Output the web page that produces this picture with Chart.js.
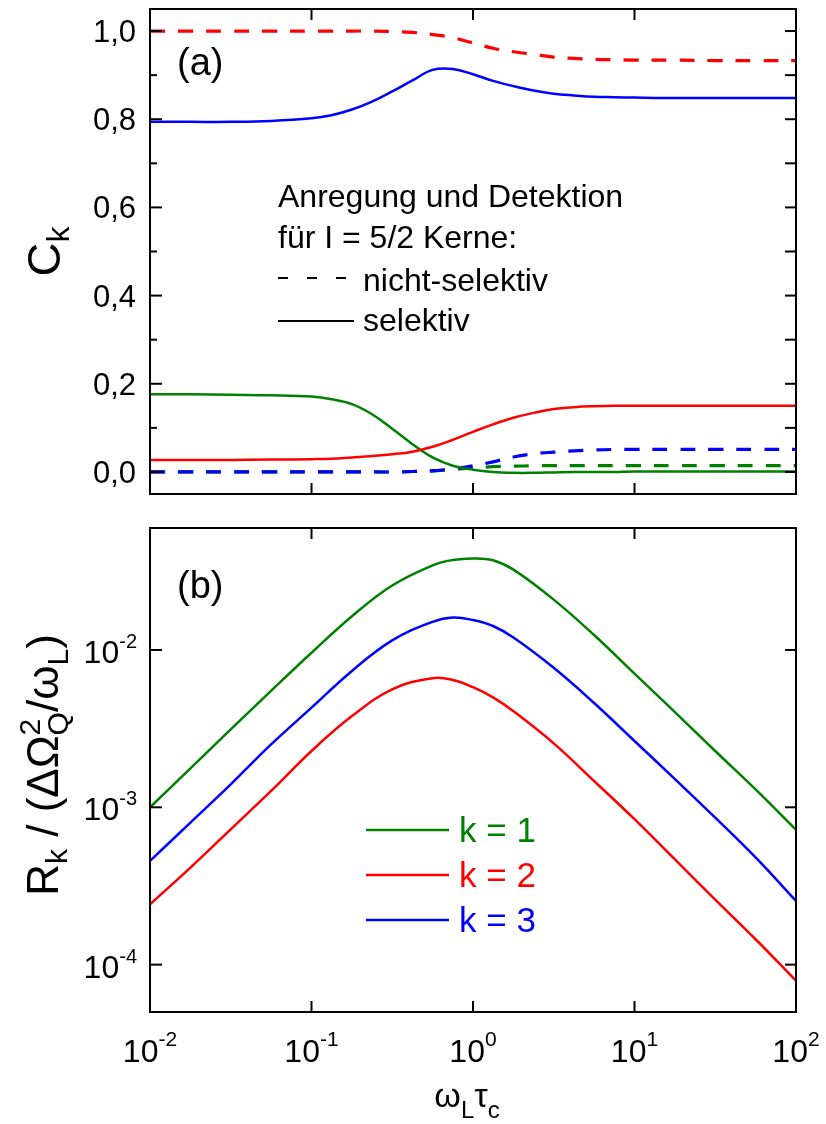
<!DOCTYPE html>
<html>
<head>
<meta charset="utf-8">
<script src="https://cdn.jsdelivr.net/npm/chart.js@4.4.0/dist/chart.umd.min.js"></script>
<style>
  html, body { margin: 0; padding: 0; background: #fff; }
  #wrap { position: relative; width: 826px; height: 1124px; background: #fff; }
  canvas { position: absolute; left: 0; }
  #chartA { top: 0; }
  #chartB { top: 510px; }
</style>
</head>
<body>
<div id="wrap">
  <canvas id="chartA" width="826" height="510"></canvas>
  <canvas id="chartB" width="826" height="614"></canvas>
</div>
<script>
// Panel (a): C_k gegen omega_L*tau_c
const xA = [0.01, 0.0178, 0.0316, 0.0562, 0.1, 0.133, 0.178, 0.237, 0.316, 0.422, 0.562, 0.75,
            1, 1.33, 1.78, 2.37, 3.16, 4.22, 5.62, 7.5, 10, 17.8, 31.6, 56.2, 100];
const c2Nicht = [1.0, 1.0, 1.0, 1.0, 1.0, 1.0, 1.0, 1.0, 0.999, 0.997, 0.992, 0.985,
                 0.973, 0.961, 0.953, 0.947, 0.941, 0.938, 0.936, 0.935, 0.934, 0.934, 0.933, 0.933, 0.933];
const c3Sel = [0.794, 0.794, 0.794, 0.796, 0.802, 0.809, 0.822, 0.840, 0.863, 0.888, 0.912, 0.914,
               0.902, 0.887, 0.875, 0.865, 0.858, 0.854, 0.851, 0.850, 0.849, 0.848, 0.848, 0.848, 0.848];
const c1Sel = [0.176, 0.176, 0.175, 0.174, 0.171, 0.165, 0.154, 0.131, 0.098, 0.063, 0.033, 0.014,
               0.005, 0.0, -0.002, -0.002, -0.001, 0.0, 0.0, 0.0, 0.001, 0.001, 0.001, 0.001, 0.001];
const c2Sel = [0.027, 0.027, 0.027, 0.028, 0.029, 0.030, 0.033, 0.036, 0.040, 0.046, 0.057, 0.073,
               0.091, 0.108, 0.123, 0.134, 0.143, 0.147, 0.149, 0.150, 0.150, 0.150, 0.150, 0.150, 0.150];
const c3Nicht = [0, 0, 0, 0, 0, 0, 0, 0, 0, 0.001, 0.003, 0.007,
                 0.014, 0.023, 0.034, 0.041, 0.045, 0.048, 0.050, 0.051, 0.051, 0.051, 0.051, 0.051, 0.051];
const c1Nicht = [0, 0, 0, 0, 0, 0, 0, 0, 0, 0.001, 0.002, 0.006,
                 0.009, 0.012, 0.013, 0.014, 0.0145, 0.0145, 0.0145, 0.0145, 0.0145, 0.0145, 0.0145, 0.0145, 0.0145];

// Panel (b): R_k / (dOmega_Q^2 / omega_L)
const xB = [0.01, 0.0178, 0.0316, 0.0562, 0.1, 0.178, 0.316, 0.562, 0.75, 1, 1.33, 1.78,
            3.16, 5.62, 10, 17.8, 31.6, 56.2, 100];
const r1 = [1.0e-3, 1.77e-3, 3.13e-3, 5.5e-3, 9.6e-3, 1.64e-2, 2.57e-2, 3.45e-2, 3.73e-2, 3.82e-2, 3.72e-2, 3.24e-2,
            2.09e-2, 1.245e-2, 7.08e-3, 4.03e-3, 2.28e-3, 1.30e-3, 7.2e-4];
const r2 = [2.42e-4, 4.14e-4, 7.24e-4, 1.27e-3, 2.28e-3, 3.80e-3, 5.62e-3, 6.62e-3, 6.45e-3, 5.8e-3, 5.0e-3, 4.08e-3,
            2.55e-3, 1.47e-3, 8.4e-4, 4.66e-4, 2.59e-4, 1.45e-4, 7.9e-5];
const r3 = [4.56e-4, 8.0e-4, 1.40e-3, 2.51e-3, 4.30e-3, 7.36e-3, 1.15e-2, 1.51e-2, 1.61e-2, 1.55e-2, 1.42e-2, 1.20e-2,
            7.7e-3, 4.6e-3, 2.64e-3, 1.51e-3, 8.6e-4, 4.8e-4, 2.54e-4];

// Achsenbeschriftung
const xTicks = [0.01, 0.1, 1, 10, 100];
const xTickExp = ['-2', '-1', '0', '1', '2'];
const yTicksA = [0, 0.2, 0.4, 0.6, 0.8, 1.0];
const yTickLabelsA = ['0,0', '0,2', '0,4', '0,6', '0,8', '1,0'];
const yMinorA = [0.1, 0.3, 0.5, 0.7, 0.9];
const yTicksB = [0.01, 0.001, 0.0001];
const yTickExpB = ['-2', '-3', '-4'];
const legendB = ['k = 1', 'k = 2', 'k = 3'];

const GREEN = '#008000', RED = '#ff0000', BLUE = '#0000ff';
const FAMILY = '"Liberation Sans", Arial, sans-serif';
const font = px => px + 'px ' + FAMILY;

function line(xs, ys, color, dashed) {
  return {
    data: xs.map((x, i) => ({ x: x, y: ys[i] })),
    borderColor: color,
    borderWidth: dashed ? 3.2 : 2.5,
    borderDash: dashed ? [15, 13] : [],
    pointRadius: 0,
    tension: 0.4,
    fill: false
  };
}

// Text mit Hoch-/Tiefstellung
function richWidth(ctx, parts) {
  let w = 0;
  parts.forEach(p => {
    ctx.font = font(p.f);
    w += p.adv !== undefined ? p.adv : ctx.measureText(p.t).width;
  });
  return w;
}
function drawRich(ctx, parts, x, y, align) {
  const w = richWidth(ctx, parts);
  let cx = align === 'center' ? x - w / 2 : align === 'right' ? x - w : x;
  ctx.textAlign = 'left';
  ctx.textBaseline = 'alphabetic';
  parts.forEach(p => {
    ctx.font = font(p.f);
    ctx.fillText(p.t, cx, y + (p.dy || 0));
    cx += p.adv !== undefined ? p.adv : ctx.measureText(p.t).width;
  });
}
function seg(ctx, x1, y1, x2, y2) {
  ctx.beginPath();
  ctx.moveTo(x1, y1);
  ctx.lineTo(x2, y2);
  ctx.stroke();
}

function frameAndXTicks(chart) {
  const { ctx, chartArea: a, scales: { x } } = chart;
  ctx.strokeStyle = '#000';
  ctx.lineWidth = 2;
  ctx.setLineDash([]);
  ctx.strokeRect(a.left, a.top, a.right - a.left, a.bottom - a.top);
  xTicks.forEach(v => {
    const px = x.getPixelForValue(v);
    seg(ctx, px, a.top, px, a.top + 11);
    seg(ctx, px, a.bottom, px, a.bottom - 11);
  });
}

const panelA = {
  id: 'panelA',
  afterDraw(chart) {
    const { ctx, chartArea: a, scales: { y } } = chart;
    ctx.save();
    frameAndXTicks(chart);
    // y-Ticks
    yTicksA.forEach((v, i) => {
      const py = y.getPixelForValue(v);
      seg(ctx, a.left, py, a.left + 12, py);
      seg(ctx, a.right, py, a.right - 11, py);
      ctx.fillStyle = '#000';
      ctx.font = font(31);
      ctx.textAlign = 'right';
      ctx.textBaseline = 'alphabetic';
      ctx.fillText(yTickLabelsA[i], a.left - 14, py + 11);
    });
    yMinorA.forEach(v => {
      const py = y.getPixelForValue(v);
      seg(ctx, a.left, py, a.left + 7, py);
      seg(ctx, a.right, py, a.right - 11, py);
    });
    // y-Titel
    ctx.save();
    ctx.translate(60, (a.top + a.bottom) / 2);
    ctx.rotate(-Math.PI / 2);
    drawRich(ctx, [{ t: 'C', f: 47 }, { t: 'k', f: 32, dy: 9 }], 0, 0, 'center');
    ctx.restore();
    // Panel-Beschriftung und Legende
    ctx.fillStyle = '#000';
    ctx.textAlign = 'left';
    ctx.font = font(38);
    ctx.fillText('(a)', a.left + 27, a.top + 66);
    ctx.font = font(32);
    ctx.fillText('Anregung und Detektion', a.left + 128, a.top + 198);
    ctx.fillText('f\u00fcr I = 5/2 Kerne:', a.left + 128, a.top + 239);
    ctx.fillText('nicht-selektiv', a.left + 213, a.top + 282);
    ctx.fillText('selektiv', a.left + 213, a.top + 322);
    ctx.lineWidth = 2;
    ctx.setLineDash([10, 19]);
    seg(ctx, a.left + 128, a.top + 269, a.left + 199, a.top + 269);
    ctx.setLineDash([]);
    seg(ctx, a.left + 128, a.top + 312, a.left + 204, a.top + 312);
    ctx.restore();
  }
};

const panelB = {
  id: 'panelB',
  afterDraw(chart) {
    const { ctx, chartArea: a, scales: { x, y } } = chart;
    ctx.save();
    frameAndXTicks(chart);
    ctx.fillStyle = '#000';
    yTicksB.forEach((v, i) => {
      const py = y.getPixelForValue(v);
      seg(ctx, a.left, py, a.left + 12, py);
      seg(ctx, a.right, py, a.right - 11, py);
      drawRich(ctx, [{ t: '10', f: 32 }, { t: yTickExpB[i], f: 20, dy: -15 }], a.left - 13, py + 13, 'right');
    });
    xTicks.forEach((v, i) => {
      const px = x.getPixelForValue(v);
      drawRich(ctx, [{ t: '10', f: 32 }, { t: xTickExp[i], f: 21, dy: -16 }], px, a.bottom + 50, 'center');
    });
    // Achsentitel
    drawRich(ctx, [{ t: '\u03c9', f: 34 }, { t: 'L', f: 24, dy: 11 }, { t: '\u03c4', f: 34 }, { t: 'c', f: 24, dy: 11 }],
      (a.left + a.right) / 2 - 6, a.bottom + 95, 'center');
    ctx.save();
    ctx.translate(58, (a.top + a.bottom) / 2 - 5);
    ctx.rotate(-Math.PI / 2);
    drawRich(ctx, [
      { t: 'R', f: 44 }, { t: 'k', f: 30, dy: 9 }, { t: ' / (\u0394\u03a9', f: 44 },
      { t: '2', f: 30, dy: -18, adv: 0 }, { t: 'Q', f: 30, dy: 10 },
      { t: '/\u03c9', f: 44 }, { t: 'L', f: 30, dy: 10 }, { t: ')', f: 44 }
    ], 0, 0, 'center');
    ctx.restore();
    // Panel-Beschriftung und Legende
    ctx.textAlign = 'left';
    ctx.font = font(38);
    ctx.fillText('(b)', a.left + 27, a.top + 70);
    [GREEN, RED, BLUE].forEach((c, i) => {
      const ly = a.top + 302 + i * 45;
      ctx.strokeStyle = c;
      ctx.lineWidth = 2.5;
      seg(ctx, a.left + 216, ly, a.left + 299, ly);
      ctx.fillStyle = c;
      ctx.font = font(35);
      ctx.fillText(legendB[i], a.left + 309, ly + 12);
    });
    ctx.restore();
  }
};

const common = {
  responsive: false,
  animation: false,
  devicePixelRatio: 1,
  events: [],
  plugins: { legend: { display: false }, tooltip: { enabled: false } }
};

new Chart(document.getElementById('chartA').getContext('2d'), {
  type: 'line',
  data: {
    datasets: [
      line(xA, c2Nicht, RED, true),
      line(xA, c3Sel, BLUE, false),
      line(xA, c2Sel, RED, false),
      line(xA, c1Sel, GREEN, false),
      line(xA, c3Nicht, BLUE, true),
      line(xA, c1Nicht, GREEN, true)
    ]
  },
  options: Object.assign({}, common, {
    layout: { padding: { left: 150, right: 30, top: 9, bottom: 16 } },
    scales: {
      x: { type: 'logarithmic', min: 0.01, max: 100, display: false },
      y: { type: 'linear', min: -0.05, max: 1.05, display: false }
    }
  }),
  plugins: [panelA]
});

new Chart(document.getElementById('chartB').getContext('2d'), {
  type: 'line',
  data: {
    datasets: [
      line(xB, r1, GREEN, false),
      line(xB, r3, BLUE, false),
      line(xB, r2, RED, false)
    ]
  },
  options: Object.assign({}, common, {
    layout: { padding: { left: 150, right: 30, top: 18, bottom: 112 } },
    scales: {
      x: { type: 'logarithmic', min: 0.01, max: 100, display: false },
      y: { type: 'logarithmic', min: 5.0e-5, max: 0.0596, display: false }
    }
  }),
  plugins: [panelB]
});
</script>
</body>
</html>
